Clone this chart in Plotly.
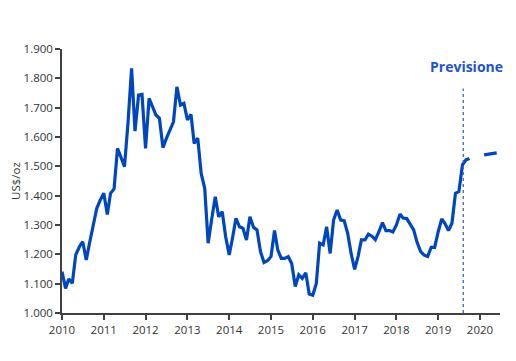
import plotly.graph_objects as go
import pandas as pd

# Monthly gold price (US$/oz), one value per month starting Jan 2010
start_month = "2010-01-01"
gold_prices = [
    1141, 1084, 1116, 1101, 1198, 1225, 1243, 1181, 1243, 1300, 1357, 1385,
    1408, 1336, 1408, 1423, 1561, 1530, 1499, 1650, 1834, 1620, 1743, 1745,
    1561, 1732, 1705, 1675, 1664, 1564, 1595, 1625, 1652, 1771, 1709, 1715,
    1658, 1677, 1578, 1596, 1476, 1425, 1238, 1320, 1396, 1328, 1345, 1260,
    1198, 1260, 1323, 1294, 1289, 1249, 1328, 1292, 1283, 1210, 1172, 1178,
    1192, 1281, 1215, 1186, 1186, 1192, 1169, 1090, 1130, 1118, 1137, 1065,
    1061, 1101, 1238, 1232, 1294, 1203, 1317, 1351, 1317, 1315, 1272, 1203,
    1149, 1195, 1249, 1249, 1269, 1262, 1250, 1277, 1308, 1281, 1281, 1276,
    1300, 1337, 1324, 1322, 1300, 1283, 1240, 1209, 1197, 1193, 1224, 1224,
    1277, 1321, 1305, 1281, 1306, 1408, 1414, 1505, 1522, 1527,
]

forecast_dates = ["2020-02-06", "2020-05-26"]
forecast_values = [1539, 1546]

forecast_marker_date = "2019-08-08"
forecast_label = "Previsione"
y_title = "US$/oz"
x_tick_years = list(range(2010, 2021))
y_ticks = [1000, 1100, 1200, 1300, 1400, 1500, 1600, 1700, 1800, 1900]

dates = pd.date_range(start_month, periods=len(gold_prices), freq="MS")
blue = "#0047BF"
font_family = "Open Sans"

fig = go.Figure()
fig.add_trace(go.Scatter(x=dates, y=gold_prices, mode="lines",
                         line=dict(color=blue, width=3.2), showlegend=False,
                         hoverinfo="skip"))
fig.add_trace(go.Scatter(x=pd.to_datetime(forecast_dates), y=forecast_values,
                         mode="lines", line=dict(color=blue, width=3.2),
                         showlegend=False, hoverinfo="skip"))

fig.add_shape(type="line", xref="x", yref="y",
              x0=forecast_marker_date, x1=forecast_marker_date,
              y0=1000, y1=1765,
              line=dict(color="#3563d2", width=1.3, dash="3px,3px"))
fig.add_annotation(x=forecast_marker_date, y=1842, xref="x", yref="y",
                   text=forecast_label, showarrow=False, xshift=3,
                   xanchor="center", yanchor="middle",
                   font=dict(family=font_family, size=14, color="#1f52cc", weight="bold"))

tick_dates = [f"{y}-01-01" for y in x_tick_years]
fig.update_xaxes(type="date", range=["2010-01-01", "2020-06-24"],
                 tickvals=tick_dates, ticktext=[str(y) for y in x_tick_years],
                 showgrid=False, zeroline=False, automargin=False,
                 showline=True, linecolor="#404040", linewidth=1.5,
                 ticks="outside", ticklen=5, tickcolor="#404040", tickwidth=1.5,
                 tickfont=dict(family=font_family, size=11.5, color="#333333"))
fig.update_yaxes(range=[1000, 1900], tickvals=y_ticks, tickformat=",d",
                 showgrid=False, zeroline=False, automargin=False,
                 showline=True, linecolor="#404040", linewidth=1.5,
                 ticks="outside", ticklen=5, tickcolor="#404040", tickwidth=1.5,
                 tickfont=dict(family=font_family, size=11.5, color="#333333"),
                 title=dict(text=y_title, standoff=2,
                            font=dict(family=font_family, size=11.5, color="#333333")))

fig.update_layout(width=508, height=353, separators=",.",
                  margin=dict(l=54, r=16, t=41, b=48, autoexpand=False),
                  plot_bgcolor="white", paper_bgcolor="white")

fig.write_html("out.html")
